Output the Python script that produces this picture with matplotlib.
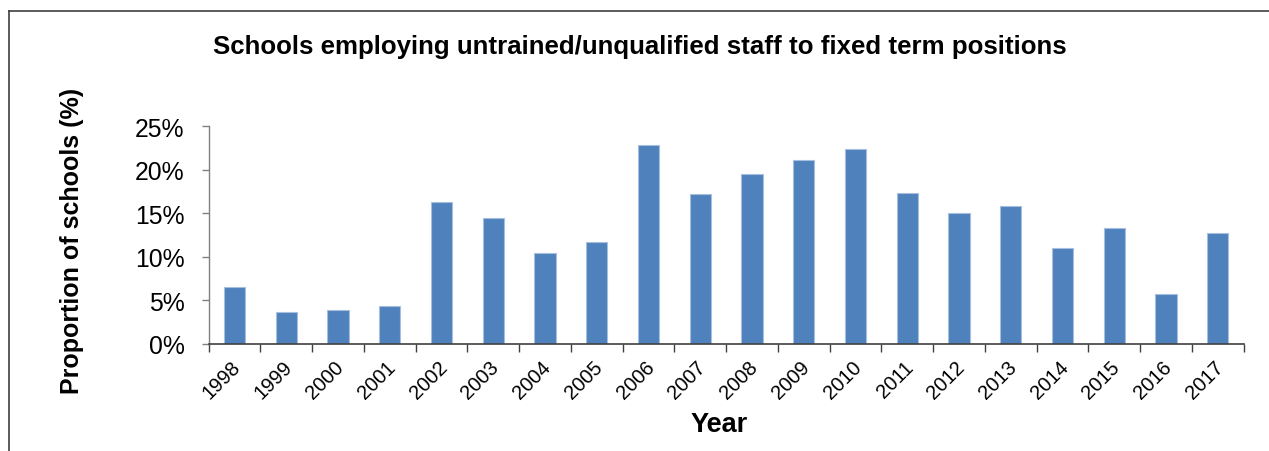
import matplotlib
matplotlib.use("Agg")
import matplotlib.pyplot as plt
from matplotlib.lines import Line2D
from matplotlib.ticker import FixedLocator, PercentFormatter
from matplotlib.transforms import ScaledTranslation
import numpy as np

years = ["1998", "1999", "2000", "2001", "2002", "2003", "2004", "2005", "2006", "2007",
         "2008", "2009", "2010", "2011", "2012", "2013", "2014", "2015", "2016", "2017"]
values = [6.54, 3.63, 3.94, 4.36, 16.34, 14.43, 10.45, 11.68, 22.85, 17.19,
          19.55, 21.16, 22.35, 17.34, 15.04, 15.84, 11.06, 13.32, 5.71, 12.71]
y_ticks = [0, 5, 10, 15, 20, 25]

plt.rcParams['font.family'] = ['Liberation Sans', 'DejaVu Sans']

W, H = 1269, 452
fig = plt.figure(figsize=(W / 100, H / 100), dpi=100)
ax = fig.add_axes([208.7 / W, 1 - 345 / H, (1243.7 - 208.7) / W, (345 - 127.3) / H])

x = np.arange(len(years))
ax.bar(x, values, width=0.41, color='#4F81BD', edgecolor='#A7BFDE', linewidth=0.8, zorder=2)

ax.set_xlim(-0.5, len(years) - 0.5)
ax.set_ylim(0, 25)
ax.set_yticks(y_ticks)
ax.yaxis.set_major_formatter(PercentFormatter(decimals=0))
ax.tick_params(axis='y', labelsize=17.8, length=5, width=1, color='#808080', pad=12.5, direction='out')

ax.set_xticks(x)
ax.set_xticklabels(years, rotation=45, ha='right', rotation_mode='anchor', fontsize=14.5)
ax.tick_params(axis='x', which='major', length=0, pad=9)
ax.xaxis.set_minor_locator(FixedLocator(np.arange(-0.5, len(years), 1.0)))
ax.tick_params(axis='x', which='minor', length=6, width=1, color='#404040', direction='out')
offset = ScaledTranslation(-4 / 100, 0, fig.dpi_scale_trans)
for lbl in ax.get_xticklabels():
    lbl.set_transform(lbl.get_transform() + offset)

for s in ['top', 'right']:
    ax.spines[s].set_visible(False)
ax.spines['left'].set_color('#808080')
ax.spines['bottom'].set_color('#404040')
ax.spines['left'].set_linewidth(1)
ax.spines['bottom'].set_linewidth(1.2)

fig.text(640 / W, 1 - 47 / H, "Schools employing untrained/unqualified staff to fixed term positions",
         ha='center', va='center', fontsize=18.6, fontweight='bold')
fig.text(72 / W, 1 - 241 / H, "Proportion of schools (%)", rotation=90,
         ha='center', va='center', fontsize=18, fontweight='bold')
fig.text(719.5 / W, 1 - 425 / H, "Year", ha='center', va='center', fontsize=19.5, fontweight='bold')

# figure border (top and left)
fig.add_artist(Line2D([9 / W, 1.0], [1 - 11.5 / H, 1 - 11.5 / H], transform=fig.transFigure,
                      color='#404040', linewidth=1.2))
fig.add_artist(Line2D([9 / W, 9 / W], [0, 1 - 11.5 / H], transform=fig.transFigure,
                      color='#404040', linewidth=1.2))

fig.savefig("out.png", dpi=100)
